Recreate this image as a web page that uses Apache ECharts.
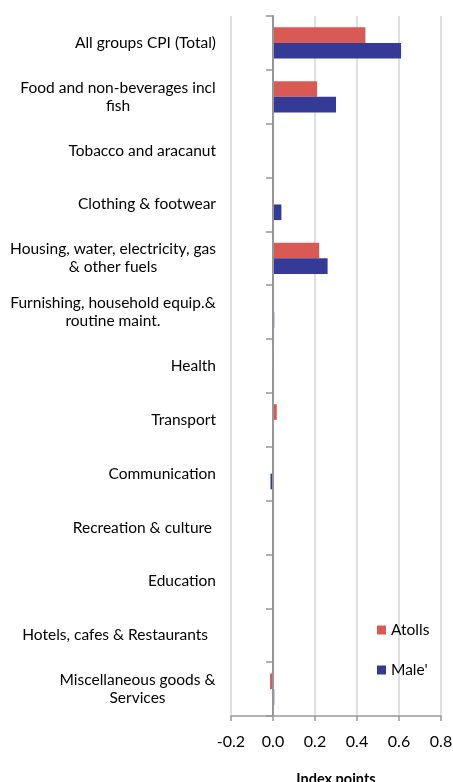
<!DOCTYPE html>
<html>
<head>
<meta charset="utf-8">
<script src="https://cdn.jsdelivr.net/npm/echarts@6/dist/echarts.min.js"></script>
<style>
html,body{margin:0;padding:0;background:#fff;}
#chart{width:453px;height:782px;}
</style>
</head>
<body>
<div id="chart"></div>
<script>
var categories = [
  "All groups CPI (Total)",
  "Food and non-beverages incl\nfish",
  "Tobacco and aracanut",
  "Clothing & footwear",
  "Housing, water, electricity, gas\n& other fuels",
  "Furnishing, household equip.&\nroutine maint.",
  "Health",
  "Transport",
  "Communication",
  "Recreation & culture ",
  "Education",
  "Hotels, cafes & Restaurants  ",
  "Miscellaneous goods &\nServices"
];
var atolls = [0.44, 0.21, 0, 0, 0.22, 0, 0.005, 0.018, 0, 0, 0, 0, -0.014];
var male = [0.61, 0.30, 0, 0.04, 0.26, 0.006, 0, 0.004, -0.012, 0, 0, 0, 0.006];
var xTicks = [-0.2, 0.0, 0.2, 0.4, 0.6, 0.8];

var FONT_FAMILY = 'Lato';
var FONT_SIZE = 15.5;
var canvas = document.createElement('canvas');
var ctx = canvas.getContext('2d');
ctx.font = FONT_SIZE + 'px ' + FONT_FAMILY;

var rich = {};
categories.forEach(function (c, i) {
  var lines = c.split('\n');
  var w = 0;
  lines.forEach(function (l) { w = Math.max(w, ctx.measureText(l).width); });
  rich['r' + i] = { width: Math.ceil(w), align: 'center', fontFamily: FONT_FAMILY, fontSize: FONT_SIZE, color: '#000', lineHeight: 18 };
});

var chart = echarts.init(document.getElementById('chart'), null, { renderer: 'canvas' });
chart.setOption({
  animation: false,
  backgroundColor: '#fff',
  textStyle: { fontFamily: FONT_FAMILY },
  grid: { left: 231, right: 12, top: 16, bottom: 66, containLabel: false, outerBoundsMode: 'none' },
  legend: {
    orient: 'vertical',
    left: 377, top: 622,
    padding: 0,
    itemWidth: 9, itemHeight: 9, itemGap: 24,
    icon: 'rect',
    textStyle: { fontSize: 15.5, color: '#000', fontFamily: FONT_FAMILY },
    data: ['Atolls', "Male'"]
  },
  xAxis: {
    type: 'value',
    min: -0.2, max: 0.8, interval: 0.2,
    name: 'Index points',
    nameLocation: 'middle',
    nameGap: 56,
    nameTextStyle: { fontWeight: 'bold', fontSize: 14.5, color: '#000', fontFamily: FONT_FAMILY },
    axisLine: { show: true, onZero: false, lineStyle: { color: '#999', width: 1.5 } },
    axisTick: { show: true, length: 5, lineStyle: { color: '#999', width: 1.5 } },
    axisLabel: {
      fontSize: 16, color: '#000', margin: 18, fontFamily: FONT_FAMILY,
      customValues: xTicks,
      formatter: function (v) { return (Math.round(v * 10) / 10).toFixed(1); }
    },
    splitLine: { show: true, lineStyle: { color: '#D4D4D4', width: 1.5 } }
  },
  yAxis: [{
    type: 'category',
    data: categories,
    inverse: true,
    position: 'left',
    z: 5,
    axisLine: { show: true, onZero: true, lineStyle: { color: '#969696', width: 2 } },
    axisTick: { show: true, length: 7, lineStyle: { color: '#969696', width: 1.5 } },
    axisLabel: { show: false },
    splitLine: { show: false }
  }, {
    type: 'category',
    data: categories,
    inverse: true,
    position: 'left',
    axisLine: { show: false, onZero: false },
    axisTick: { show: false },
    axisLabel: {
      show: true, margin: 15, interval: 0,
      fontSize: FONT_SIZE, color: '#000', fontFamily: FONT_FAMILY, lineHeight: 18,
      rich: rich,
      formatter: function (v, i) {
        var lines = v.split('\n');
        if (lines.length === 1) return v;
        return lines.map(function (l) { return '{r' + i + '|' + l + '}'; }).join('\n');
      }
    },
    splitLine: { show: false }
  }],
  series: [{
    name: 'Atolls',
    type: 'bar',
    yAxisIndex: 0,
    data: atolls,
    barGap: '0%',
    barCategoryGap: '42%',
    itemStyle: { color: '#D95A55' }
  }, {
    name: "Male'",
    type: 'bar',
    yAxisIndex: 0,
    data: male,
    barGap: '0%',
    barCategoryGap: '42%',
    itemStyle: { color: '#343A96' }
  }]
});
</script>
</body>
</html>
